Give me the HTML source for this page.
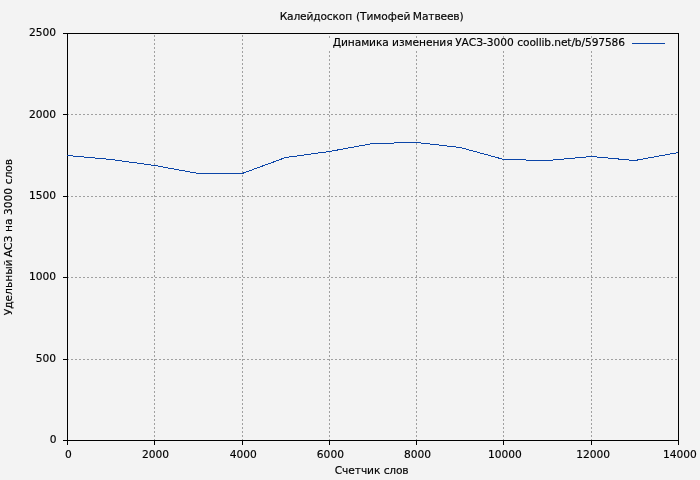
<!DOCTYPE html>
<html lang="ru"><head><meta charset="utf-8"><title>Калейдоскоп (Тимофей Матвеев)</title>
<style>
html,body{margin:0;padding:0;background:#f3f3f3;}
body{width:700px;height:480px;overflow:hidden;}
svg{display:block;}
text{font-family:"DejaVu Sans","Liberation Sans",sans-serif;font-size:10.67px;fill:#000;stroke:#000;stroke-width:0.15px;}
</style></head><body>
<svg width="700" height="480" viewBox="0 0 700 480">
<rect x="0" y="0" width="700" height="480" fill="#f3f3f3"/>

<g stroke="#a0a0a0" stroke-width="1" stroke-dasharray="2,2" shape-rendering="crispEdges" fill="none">
<line x1="67" y1="359.5" x2="678" y2="359.5"/>
<line x1="67" y1="277.5" x2="678" y2="277.5"/>
<line x1="67" y1="196.5" x2="678" y2="196.5"/>
<line x1="67" y1="114.5" x2="678" y2="114.5"/>
<line x1="154.5" y1="441" x2="154.5" y2="34"/>
<line x1="242.5" y1="441" x2="242.5" y2="34"/>
<line x1="329.5" y1="441" x2="329.5" y2="51"/>
<line x1="329.5" y1="38" x2="329.5" y2="34"/>
<line x1="416.5" y1="441" x2="416.5" y2="51"/>
<line x1="416.5" y1="38" x2="416.5" y2="34"/>
<line x1="503.5" y1="441" x2="503.5" y2="51"/>
<line x1="503.5" y1="38" x2="503.5" y2="34"/>
<line x1="591.5" y1="441" x2="591.5" y2="51"/>
<line x1="591.5" y1="38" x2="591.5" y2="34"/>
</g>
<g stroke="#000" stroke-width="1" shape-rendering="crispEdges" fill="none">
<line x1="63" y1="440.5" x2="67" y2="440.5"/>
<line x1="63" y1="359.5" x2="67" y2="359.5"/>
<line x1="63" y1="277.5" x2="67" y2="277.5"/>
<line x1="63" y1="196.5" x2="67" y2="196.5"/>
<line x1="63" y1="114.5" x2="67" y2="114.5"/>
<line x1="63" y1="33.5" x2="67" y2="33.5"/>
<line x1="67.5" y1="441" x2="67.5" y2="445"/>
<line x1="154.5" y1="441" x2="154.5" y2="445"/>
<line x1="242.5" y1="441" x2="242.5" y2="445"/>
<line x1="329.5" y1="441" x2="329.5" y2="445"/>
<line x1="416.5" y1="441" x2="416.5" y2="445"/>
<line x1="503.5" y1="441" x2="503.5" y2="445"/>
<line x1="591.5" y1="441" x2="591.5" y2="445"/>
<line x1="678.5" y1="441" x2="678.5" y2="445"/>
<rect x="67.5" y="33.5" width="611" height="407"/>
</g>
<polyline fill="none" stroke="#0b45a8" stroke-width="1" shape-rendering="crispEdges" points="67.5,155.5 111.1,159.5 154.8,165.5 198.4,173.5 242.1,173.5 285.7,157.5 329.4,151.5 373.0,143.5 416.6,142.5 460.3,147.5 503.9,159.5 547.5,160.5 591.2,156.5 634.8,160.5 678.5,152.5"/>
<line x1="632" y1="43.5" x2="665" y2="43.5" stroke="#0b45a8" stroke-width="1" shape-rendering="crispEdges"/>
<text x="56.5" y="443.1" text-anchor="end">0</text>
<text x="56" y="361.7" text-anchor="end">500</text>
<text x="56" y="280.3" text-anchor="end">1000</text>
<text x="56" y="198.9" text-anchor="end">1500</text>
<text x="56" y="117.5" text-anchor="end">2000</text>
<text x="56" y="36.1" text-anchor="end">2500</text>
<text x="68.3" y="458" text-anchor="middle">0</text>
<text x="155.6" y="458" text-anchor="middle">2000</text>
<text x="243.3" y="458" text-anchor="middle">4000</text>
<text x="330.4" y="458" text-anchor="middle">6000</text>
<text x="417.6" y="458" text-anchor="middle">8000</text>
<text x="504.9" y="458" text-anchor="middle">10000</text>
<text x="593.2" y="458" text-anchor="middle">12000</text>
<text x="679.9" y="458" text-anchor="middle">14000</text>
<text y="20"><tspan x="279.64" textLength="72.53" lengthAdjust="spacing">Калейдоскоп</tspan> <tspan x="355.88" textLength="54.48" lengthAdjust="spacing">(Тимофей</tspan> <tspan x="412.84" textLength="50.85" lengthAdjust="spacing">Матвеев)</tspan></text>
<text y="46"><tspan x="332.77" textLength="56.03" lengthAdjust="spacing">Динамика</tspan> <tspan x="392.00" textLength="60.62" lengthAdjust="spacing">изменения</tspan> <tspan x="455.19" textLength="58.47" lengthAdjust="spacing">УАСЗ-3000</tspan> <tspan x="517.23" textLength="107.82" lengthAdjust="spacing">coollib.net/b/597586</tspan></text>
<text y="474"><tspan x="334.73" textLength="45.66" lengthAdjust="spacing">Счетчик</tspan> <tspan x="383.63" textLength="24.94" lengthAdjust="spacing">слов</tspan></text>
<text transform="translate(11.8,0) rotate(-90)" y="0"><tspan x="-315.31" textLength="55.83" lengthAdjust="spacing">Удельный</tspan> <tspan x="-257.18" textLength="21.56" lengthAdjust="spacing">АСЗ</tspan> <tspan x="-232.02" textLength="13.50" lengthAdjust="spacing">на</tspan> <tspan x="-215.00" textLength="27.12" lengthAdjust="spacing">3000</tspan> <tspan x="-184.37" textLength="25.48" lengthAdjust="spacing">слов</tspan></text>
</svg>
</body></html>
